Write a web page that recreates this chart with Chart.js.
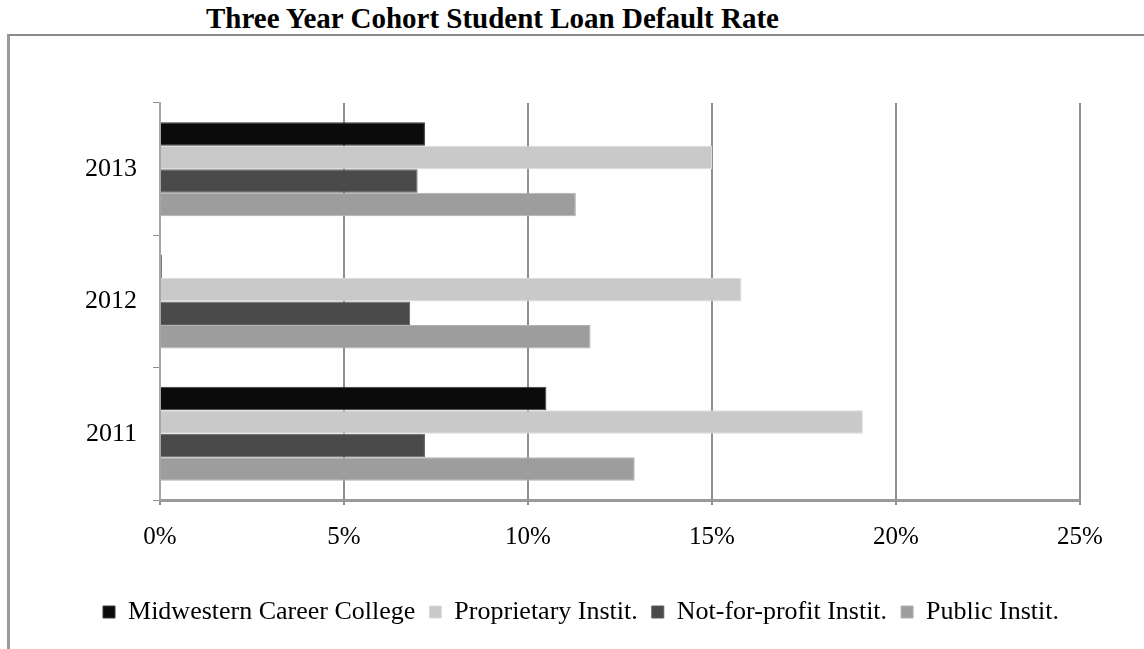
<!DOCTYPE html>
<html>
<head>
<meta charset="utf-8">
<script src="https://cdn.jsdelivr.net/npm/chart.js@4"></script>
<style>
    html, body { margin: 0; padding: 0; background: #fff; }
    #wrap { position: relative; width: 1144px; height: 649px; overflow: hidden; }
    #frame {
        position: absolute; left: 7px; top: 34px; width: 1134px; height: 640px;
        border-top: 2px solid #8a8a8a; border-left: 3px solid #9a9a9a; border-right: 1px solid #d6d6d6;
    }
    #title {
        position: absolute; left: 0; top: 4px; width: 985px; text-align: center;
        font: bold 29px "Liberation Serif", "Times New Roman", serif; line-height: 29px; color: #000;
    }
    #chartBox { position: absolute; left: 0; top: 0; width: 1144px; height: 649px; }
</style>
</head>
<body>
<div id="wrap">
    <div id="frame"></div>
    <div id="title">Three Year Cohort Student Loan Default Rate</div>
    <div id="chartBox"><canvas id="loanChart"></canvas></div>
</div>
<script>
const years = ['2013', '2012', '2011'];
const seriesNames = ['Midwestern Career College', 'Proprietary Instit.', 'Not-for-profit Instit.', 'Public Instit.'];
const midwestern = [7.2, 0.05, 10.5];
const proprietary = [15.0, 15.8, 19.1];
const notForProfit = [7.0, 6.8, 7.2];
const publicInst = [11.3, 11.7, 12.9];
const xTicks = [0, 5, 10, 15, 20, 25];

const fills = ['#0b0b0b', '#c9c9c9', '#4a4a4a', '#9d9d9d'];
const edges = ['#3c3c3c', '#dcdcdc', '#5e5e5e', '#b2b2b2'];
const seriesValues = [midwestern, proprietary, notForProfit, publicInst];

const serif = '"Liberation Serif", "Times New Roman", serif';

const ctx = document.getElementById('loanChart').getContext('2d');
window.loanChart = new Chart(ctx, {
    type: 'bar',
    data: {
        labels: years,
        datasets: seriesValues.map((vals, i) => ({
            label: seriesNames[i],
            data: vals,
            backgroundColor: fills[i],
            borderColor: edges[i],
            borderWidth: 1,
            barPercentage: 1.0,
            categoryPercentage: 0.71
        }))
    },
    options: {
        indexAxis: 'y',
        responsive: true,
        maintainAspectRatio: false,
        animation: false,
        layout: {
            padding: { left: 82, right: 64, top: 103, bottom: 14 }
        },
        plugins: {
            title: { display: false },
            tooltip: { enabled: false },
            legend: {
                position: 'bottom',
                labels: {
                    color: '#000',
                    font: { family: serif, size: 26 },
                    boxWidth: 12,
                    boxHeight: 12,
                    padding: 14
                }
            }
        },
        scales: {
            x: {
                min: 0,
                max: 25,
                // leave room so the legend row lands where the reference has it
                afterFit: function (scale) { scale.height = 85; },
                afterBuildTicks: function (scale) {
                    scale.ticks = xTicks.map(v => ({ value: v }));
                },
                ticks: {
                    color: '#000',
                    font: { family: serif, size: 25 },
                    padding: 17,
                    callback: v => v + '%'
                },
                grid: {
                    color: '#8e8e8e',
                    lineWidth: 2,
                    tickLength: 5
                },
                border: { color: '#9a9a9a', width: 3 }
            },
            y: {
                afterFit: function (scale) { scale.width = 78; },
                ticks: {
                    color: '#000',
                    font: { family: serif, size: 26 },
                    padding: 16
                },
                grid: {
                    drawOnChartArea: false,
                    color: '#8a8a8a',
                    lineWidth: 1,
                    tickLength: 7
                },
                border: { color: '#a6a6a6', width: 2 }
            }
        }
    }
});
</script>
</body>
</html>
